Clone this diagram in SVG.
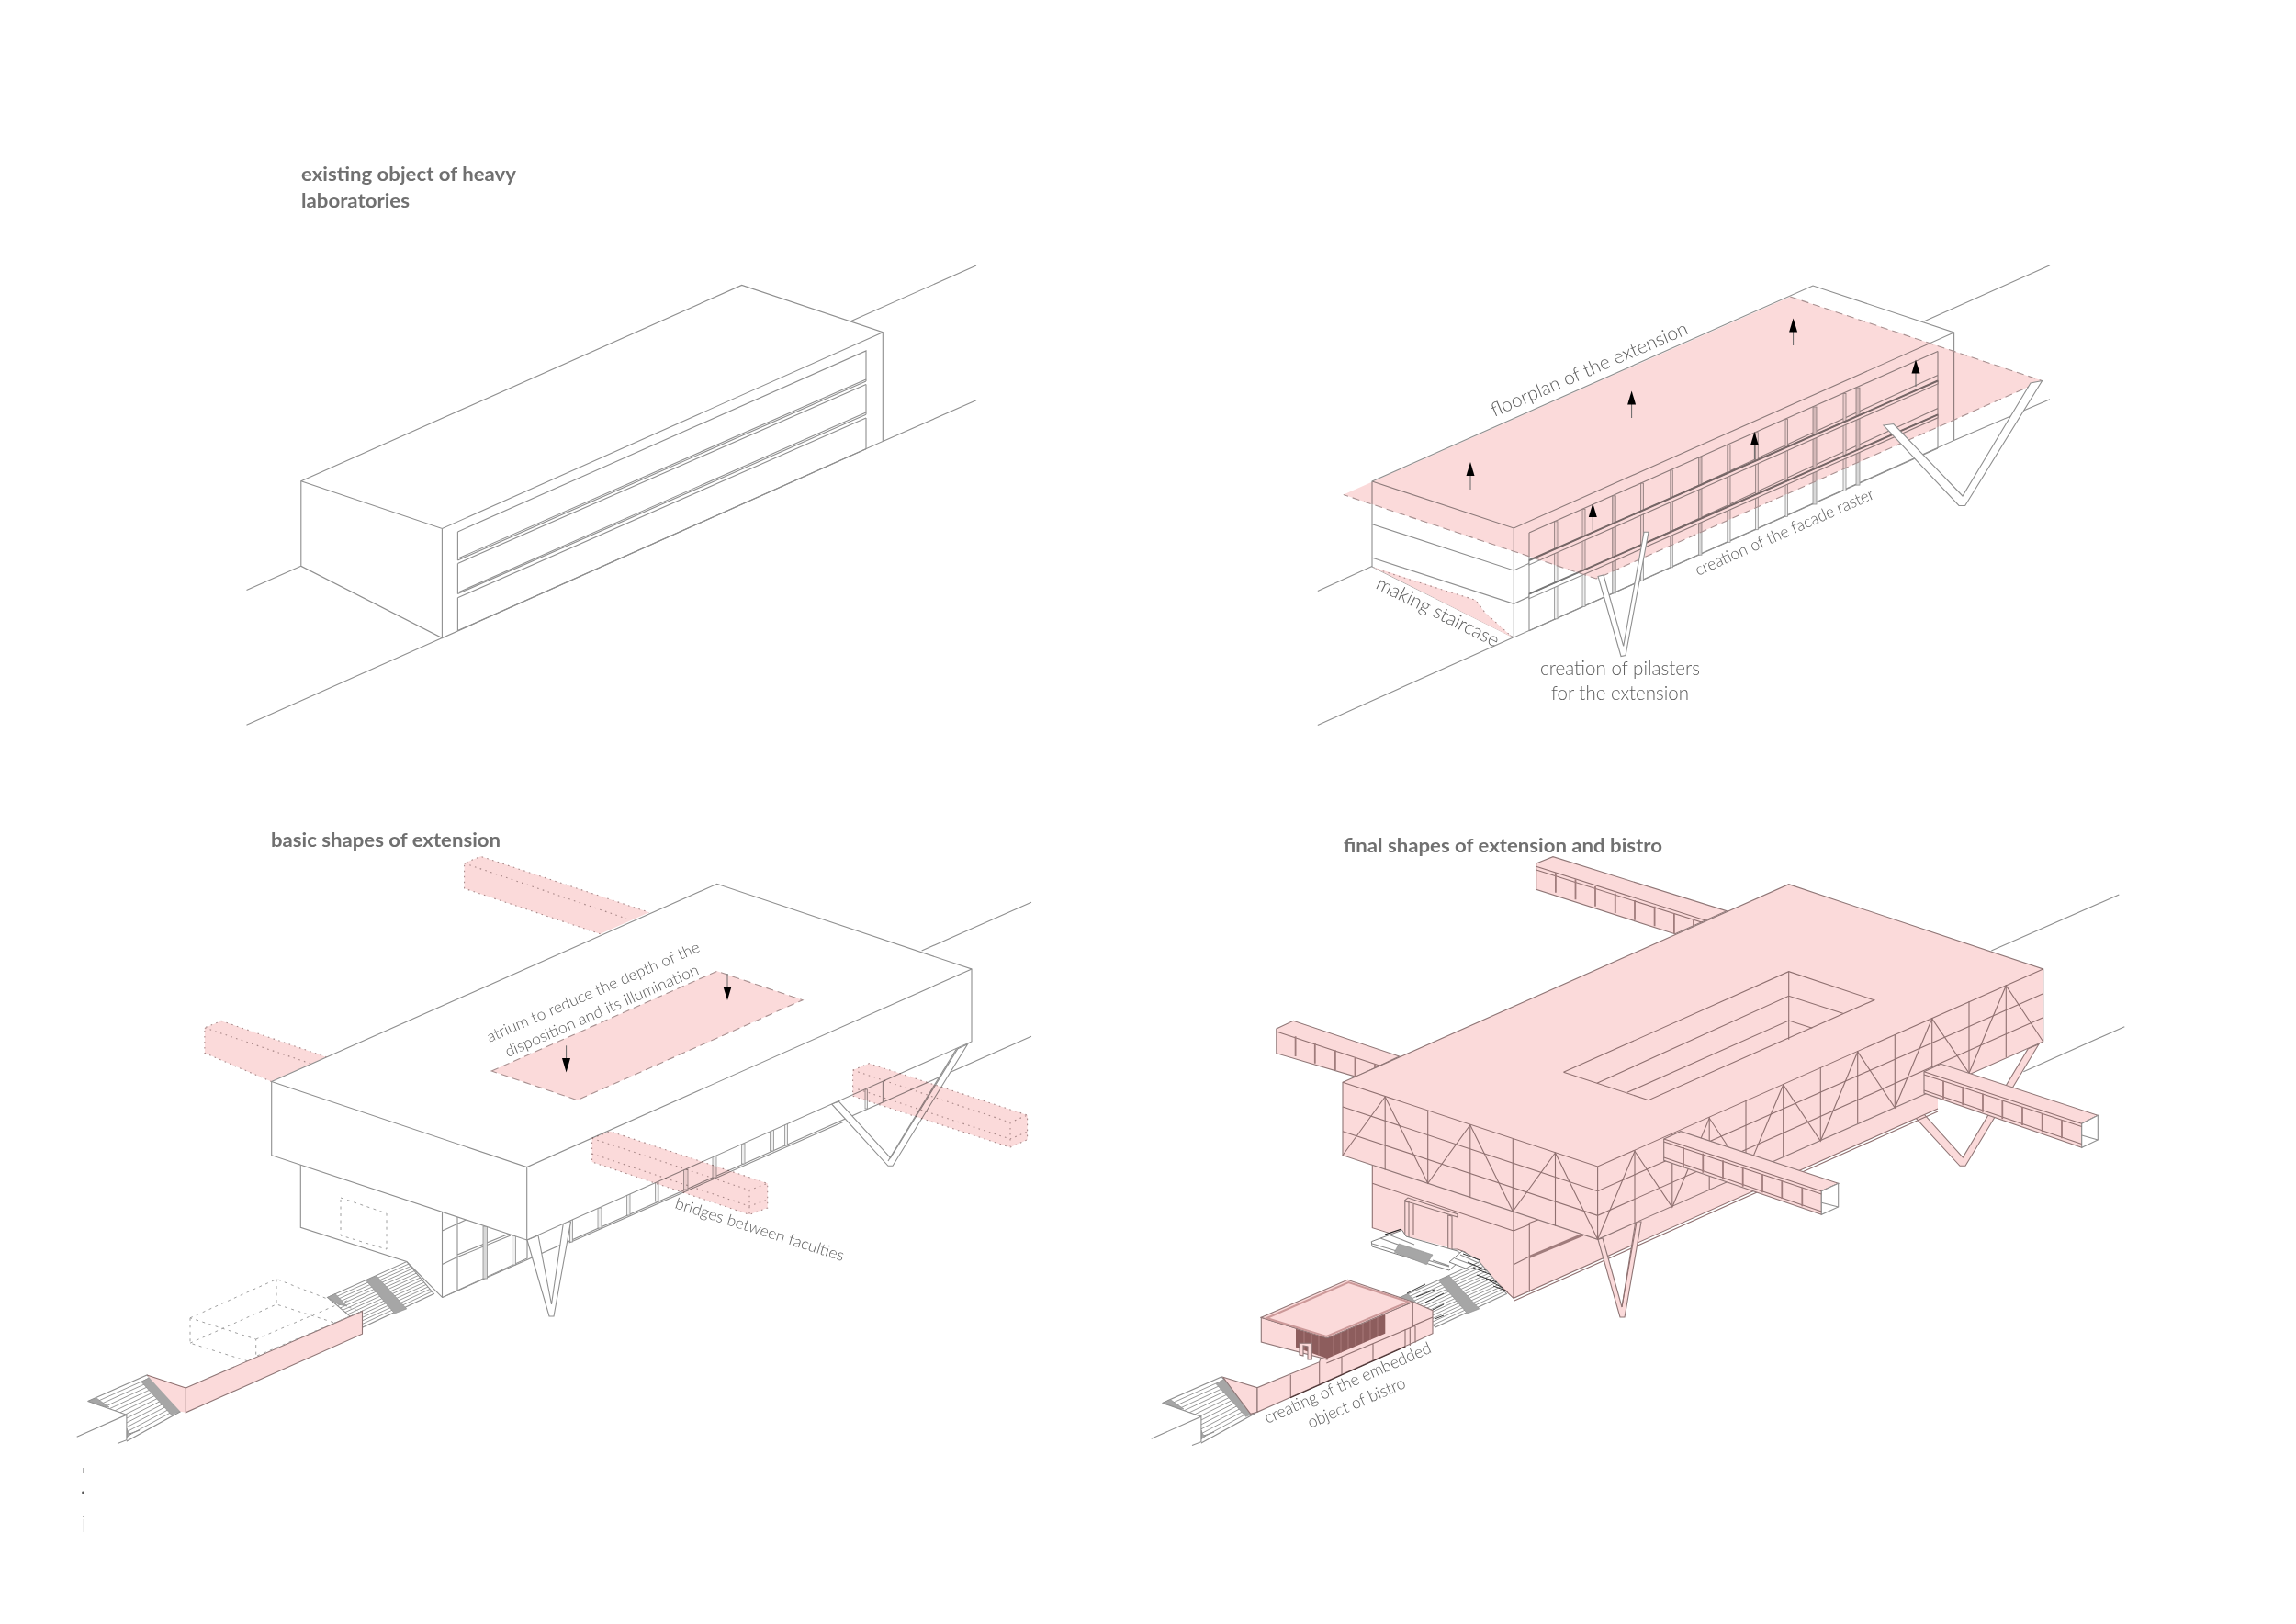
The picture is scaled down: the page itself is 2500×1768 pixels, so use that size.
<svg xmlns="http://www.w3.org/2000/svg" xmlns:xlink="http://www.w3.org/1999/xlink" width="2500" height="1768" viewBox="0 0 2500 1768">
<style>
.bg{fill:#fff}
.l{fill:none;stroke:#8f8f8f;stroke-width:1.1}
.s{fill:none;stroke:#7d7d7d;stroke-width:.8}
.w{fill:#fff;stroke:#8f8f8f;stroke-width:1.1}
.pk{fill:#fbdada;stroke:none}
.pl{fill:#fbdada;stroke:#8f7676;stroke-width:1.1}
.r{fill:none;stroke:#8f7070;stroke-width:1.1}
.win{fill:none;stroke:#a07c7c;stroke-width:1.8}
.pm{fill:#fbdada;stroke:none;mix-blend-mode:multiply}
.dash{fill:none;stroke:#a89090;stroke-width:1.1;stroke-dasharray:8 5}
.dot{fill:none;stroke:#a88888;stroke-width:1.1;stroke-dasharray:1.6 4.4}
.gd{fill:none;stroke:#a0a0a0;stroke-width:1;stroke-dasharray:3 4.5}
.vg{fill:#d8d8d8;stroke:#8f8f8f;stroke-width:.8}
.vw{fill:#efefef;stroke:#8f8f8f;stroke-width:.8}
.g{fill:#a6a6a6;stroke:#8f8f8f;stroke-width:.6}
.st{fill:#fff;stroke:#7e7e7e;stroke-width:1}
.arr{stroke:#666;stroke-width:1}
.h{font-family:Lato,"Liberation Sans",sans-serif;font-weight:700;fill:#707070;font-size:21px}
.t{font-family:Lato,"Liberation Sans",sans-serif;font-weight:300;fill:#5c5c5c;font-size:21px}
</style>
<defs>
<path id="ah" d="M0 0L-4.5 15L4.5 15Z" fill="#000"/>
<g id="lowstair">
<polygon class="w" points="95.6,1525.4 160,1497 196.4,1536.8 137.9,1569"/>
<path class="s" d="M98.9 1528.8L162.8 1500.1M102.1 1532.1L165.6 1503.1M105.4 1535.5L168.4 1506.2M108.6 1538.8L171.2 1509.2M111.9 1542.2L174 1512.3M115.1 1545.5L176.8 1515.4M118.4 1548.9L179.6 1518.4M121.6 1552.2L182.4 1521.5M124.9 1555.6L185.2 1524.5M128.1 1558.9L188 1527.6M131.4 1562.3L190.8 1530.7M134.6 1565.6L193.6 1533.7"/>
<polygon class="g" points="154,1504.5 162.8,1499.5 197.6,1536 186.5,1540.3"/>
<polygon class="g" points="96,1525.5 105,1522 119,1532 108,1531"/>
<polygon class="g" points="138,1555 140,1560 143,1561 138,1565"/>
<polygon fill="#fff" points="90,1523.5 137.9,1540.2 137.9,1574 90,1574"/>
<path class="l" d="M95.6 1525.4L137.9 1540.2M83.7 1564.2L137.9 1540.2V1567.7L128 1571.6"/>
<path class="l" d="M141 1561L152 1557"/>
</g>
<g id="upstair">
<polygon class="w" points="356.6,1412.4 442.8,1373.6 472.4,1408.5 395.3,1444.8"/>
<path class="s" d="M359.4 1414.7L444.9 1376.1M362.1 1417L447 1378.6M364.9 1419.3L449.1 1381.1M367.6 1421.6L451.2 1383.6M370.4 1424L453.4 1386.1M373.2 1426.3L455.5 1388.5M375.9 1428.6L457.6 1391M378.7 1430.9L459.7 1393.5M381.4 1433.2L461.8 1396M384.2 1435.5L463.9 1398.5M387 1437.8L466 1401M389.7 1440.1L468.1 1403.5M392.5 1442.4L470.3 1406"/>
<polygon class="g" points="398.5,1394 410,1389 442.8,1424.9 429.7,1430"/>
<polygon class="g" points="356.6,1412.4 365,1408.5 378,1422 368,1420"/>
</g>
</defs>
<rect class="bg" width="2500" height="1768"/>

<g id="panel1">
<text class="h" x="328" y="197" textLength="234" lengthAdjust="spacingAndGlyphs">existing object of heavy</text>
<text class="h" x="328" y="226" textLength="118" lengthAdjust="spacingAndGlyphs">laboratories</text>
<path class="l" d="M925.7 350L1063 289M961.3 480.4L1063 435.8M481.4 694.6L268.5 789.3M327.8 616.3L268.5 642.4"/>
<polygon class="w" points="327.8,523.7 807.7,310.4 961.3,361.7 961.3,480.4 481.4,694.6 327.8,616.3"/>
<path class="l" d="M327.8 523.7L481.4 575.5L961.3 361.7M481.4 575.5V694.6"/>
<path class="l" d="M498.4 578.9L943 381.9V415M498.4 578.9V610M498.4 613.4V646.6M498.4 650.8V686.6M943 418.5V451.3M943 455V488.8"/>
<path class="l" d="M498.4 610L943 415M498.4 613.4L943 418.5M500 607.5L943 413M498.4 646.6L943 451.3M498.4 650.8L943 455M500 644.5L943 449M498.4 686.6L943 488.8"/>
</g>

<g id="panel2">
<path class="l" d="M2094.7 350L2232 288.8M2127.6 479.5L2232 434.8M1647.6 694L1434.8 789.5M1494 616.4L1434.8 643.4"/>
<polygon class="w" points="1494,524 1974,311 2127.6,362 2127.6,479.5 1648.3,694 1494,617"/>
<path class="l" d="M1494 524L1648.3 575L2127.6 362M1648.3 575V694M1494.3 570.7L1648.3 621L2110 408.5M1494.3 607.3L1648.3 657.3L2110 444.6M2110 382.4V488"/>
<polygon class="pk" points="1494,617 1606.7,653.3 1617,667 1647,694"/>
<path class="dot" d="M1500 620L1606.7 653.3L1617 667L1647 694"/>
<path class="l" d="M1665 580L2110 382.4M1665 580V686.7M1665 686.7L2110 488"/>
<g id="raster">
<rect class="vw" x="1692.6" y="567.8" width="3.4" height="106"/>
<rect class="vw" x="1723" y="554.3" width="3" height="106"/>
<rect class="vg" x="1755.7" y="539.8" width="3.5" height="106"/>
<rect class="vw" x="1786.4" y="526.2" width="3" height="106"/>
<rect class="vw" x="1818.8" y="511.8" width="2.5" height="106"/>
<rect class="vg" x="1849.5" y="498.2" width="3.5" height="106"/>
<rect class="vw" x="1880.8" y="484.3" width="3.2" height="106"/>
<rect class="vw" x="1911.5" y="470.7" width="2.8" height="106"/>
<rect class="vw" x="1944" y="456.3" width="2.5" height="106"/>
<rect class="vg" x="1974" y="443" width="4" height="106"/>
<rect class="vw" x="2007" y="428.4" width="3" height="106"/>
<rect class="vg" x="2021" y="422.1" width="4" height="106"/>
</g>
<polygon class="w" points="1665,610 2110,414.5 2110,418 1665,615"/>
<polygon class="w" points="1665,646.7 2110,451.4 2110,454.8 1665,651.7"/>
<path d="M1665 610L2110 414.5M1665 646.7L2110 451.4" fill="none" stroke="#777" stroke-width="2"/>
<polygon class="pm" points="1462.8,538.6 1949.3,323 2223.6,414.5 1738,630"/>
<path class="dash" d="M1949.3 323L2223.6 414.5L1738 630L1462.8 538.6"/>
<polygon class="w" points="1740,627.5 1746,626 1767.7,703.3 1790,579.3 1795,579.3 1770,713.5 1765,714.5"/>
<polygon class="w" points="2050.8,463 2061.8,461.5 2137,540 2211,417 2223.6,414.5 2139.7,550.5 2133,550.5"/>
<path class="arr" d="M1601 533V510M1776.6 455V432M1952.6 376V353M2086 421V398M1910.4 500V477M1734.3 577.5V555"/>
<use xlink:href="#ah" href="#ah" x="1601" y="503"/>
<use xlink:href="#ah" href="#ah" x="1776.6" y="425.4"/>
<use xlink:href="#ah" href="#ah" x="1952.6" y="346.6"/>
<use xlink:href="#ah" href="#ah" x="2086" y="391.6"/>
<use xlink:href="#ah" href="#ah" x="1910.4" y="470"/>
<use xlink:href="#ah" href="#ah" x="1734.3" y="548"/>
<text class="t" transform="translate(1627,454) rotate(-23.2)" textLength="231" lengthAdjust="spacingAndGlyphs">floorplan of the extension</text>
<text class="t" style="font-size:18px" transform="translate(1849,627) rotate(-23.7)" textLength="211" lengthAdjust="spacingAndGlyphs">creation of the facade raster</text>
<text class="t" transform="translate(1497,640) rotate(26.3)" textLength="146" lengthAdjust="spacingAndGlyphs">making staircase</text>
<text class="t" x="1764" y="735" text-anchor="middle" textLength="174" lengthAdjust="spacingAndGlyphs">creation of pilasters</text>
<text class="t" x="1764" y="762" text-anchor="middle" textLength="150" lengthAdjust="spacingAndGlyphs">for the extension</text>
</g>

<g id="panel3">
<text class="h" x="295" y="922" textLength="250" lengthAdjust="spacingAndGlyphs">basic shapes of extension</text>
<path class="l" d="M1003.6 1035L1123 982.3M481.5 1412.4L1123 1128.3M619.6 1353L917.9 1221.5"/>
<polygon class="pk" points="505.6,939.8 523.4,932.3 707,993.3 653.6,1016.7 505.6,967.2"/>
<path class="dot" d="M653.6 1016.7L505.6 967.2V939.8L523.4 932.3L707 993.3M505.6 939.8L682 1000"/>
<polygon class="pk" points="222.9,1118.9 241,1111.4 356.6,1151.2 295.7,1177.6 222.9,1146.3"/>
<path class="dot" d="M295.7 1177.6L222.9 1146.3V1118.9L241 1111.4L356.6 1151.2M222.9 1118.9L340.7 1158.7"/>
<g id="lower3">
<polygon class="w" points="327.3,1268 327.3,1336.3 442.8,1373.6 481.5,1412.4 574,1370 574,1340 481.5,1300"/>
<path class="l" d="M481.5 1319V1412.4M481.5 1340L509.6 1327M481.5 1376.6L498 1368.6M498 1368.6L556 1345M498 1366L556 1342.5M498 1322V1405"/>
<rect class="vg" x="526" y="1335" width="4.5" height="57"/>
<rect class="vw" x="557.4" y="1345" width="4" height="32"/>
<polygon class="gd" points="371,1304 421,1321 421,1360 371,1345"/>
<g id="verts3">
<rect class="vw" x="620.5" y="1328" width="3" height="24"/>
<rect class="vw" x="651" y="1315" width="4" height="22"/>
<rect class="vw" x="682.5" y="1300" width="3.5" height="23"/>
<rect class="vw" x="713.5" y="1287" width="3.5" height="21"/>
<rect class="vw" x="744.5" y="1273" width="4.5" height="22"/>
<rect class="vw" x="776" y="1258" width="4" height="24"/>
<rect class="vw" x="807.5" y="1245" width="3.5" height="22"/>
<rect class="vw" x="838.5" y="1230" width="4" height="23"/>
<rect class="vw" x="854.5" y="1223" width="3" height="24"/>
<rect class="vw" x="942" y="1186" width="2.5" height="21"/>
<path class="l" d="M961.4 1177V1200"/>
</g>
</g>
<polygon class="w" points="905.4,1201.7 913.6,1199.3 969.6,1260.7 1042.9,1141.7 1053.6,1136.7 972,1269.3 967,1269.3"/>
<path class="l" d="M967 1264L1042 1141"/>
<polygon class="w" points="574,1350 586,1345 600.5,1420 613.6,1330 621.5,1330 603,1433 598,1433"/>
<polygon class="w" points="295.7,1177.6 780.7,962.3 1058,1055 1058,1134 573.7,1350 295.7,1257.7"/>
<path class="l" d="M295.7 1177.6L573.7 1270.6L1058 1055M573.7 1270.6V1350"/>
<polygon class="pk" points="535.3,1166 780.7,1057.3 874,1088.7 628.6,1197.7"/>
<path class="dash" d="M535.3 1166L780.7 1057.3L874 1088.7L628.6 1197.7Z"/>
<path class="arr" d="M616.6 1138.3V1155M792 1060V1076"/>
<path d="M612 1152L621 1152L616.6 1167.5Z M787.5 1074L796.5 1074L792 1089Z" fill="#000"/>
<g id="bridge3c" style="mix-blend-mode:multiply">
<polygon class="pk" points="644.6,1239.3 664.3,1231.7 835.7,1288.3 835.7,1315 816,1322.3 644.6,1265"/>
<path class="dot" d="M644.6 1239.3L664.3 1231.7L835.7 1288.3V1315L816 1322.3L644.6 1265ZM644.6 1239.3L816 1295.7L835.7 1288.3M816 1295.7V1322.3M644.6 1256L816 1313L835.7 1306"/>
</g>
<g id="bridge3d" style="mix-blend-mode:multiply">
<polygon class="pk" points="928.6,1165 946.4,1157.7 1118.6,1214 1118.6,1240.7 1100,1249 928.6,1193.3"/>
<path class="dot" d="M928.6 1165L946.4 1157.7L1118.6 1214V1240.7L1100 1249L928.6 1193.3ZM928.6 1165L1100 1222L1118.6 1214M1100 1222V1249M928.6 1184L1100 1240L1118.6 1232"/>
</g>
<text class="t" style="font-size:17px" transform="translate(533,1135) rotate(-23.4)" textLength="251" lengthAdjust="spacingAndGlyphs">atrium to reduce the depth of the</text>
<text class="t" style="font-size:17px" transform="translate(553,1151) rotate(-23.5)" textLength="228" lengthAdjust="spacingAndGlyphs">disposition and its illumination</text>
<text class="t" style="font-size:17px" transform="translate(734,1315) rotate(17.6)" textLength="192" lengthAdjust="spacingAndGlyphs">bridges between faculties</text>
<use xlink:href="#upstair" href="#upstair"/>
<use xlink:href="#lowstair" href="#lowstair"/>
<g id="ghost3">
<path class="gd" d="M207 1434.8L301.2 1392.5L395 1429M207 1434.8V1462.2L278.7 1484.6V1458L207 1434.8M278.7 1458L380 1415M207 1462.2L301 1420L380 1445M301 1392.5V1420M278.7 1484.6L380 1441"/>
</g>
<polygon class="pk" points="160,1497 202.3,1511 202.3,1537.8 196.4,1536.8"/>
<polygon class="pl" points="202.3,1511 394.5,1427.4 394.5,1452.2 202.3,1537.8"/>
<path class="r" d="M160 1497L202.3 1511"/>
<path class="gd" d="M280 1476L395 1427"/>
<circle cx="90.5" cy="1625" r="1.4" fill="#555"/>
<path d="M91 1598V1604M91 1650V1652" stroke="#999" stroke-width="1.5"/>
<path d="M91 1654V1668" stroke="#ddd" stroke-width="1"/>
</g>

<g id="panel4">
<text class="h" x="1463" y="928" textLength="347" lengthAdjust="spacingAndGlyphs">final shapes of extension and bistro</text>
<path class="l" d="M2168.3 1035L2307.3 974M2203.3 1166.7L2313.3 1117.7"/>
<g id="bridge4a">
<polygon class="pl" points="1672.7,940 1691,932.7 1880,991.7 1823.7,1016.7 1672.7,968.3"/>
<path class="r" d="M1672.7 943.3L1856.3 1001.7"/>
<path class="r" d="M1672.7 947L1856 1005"/>
<path class="win" d="M1693.9 950V971.7M1715.5 957.3V979.3M1737 965V986.7M1758.8 972.7V994M1780 980V1001.7M1801.6 986.7V1008.3M1822.9 994V1016M1844 1001.7V1012"/>
</g>
<g id="bridge4b">
<polygon class="pl" points="1389.8,1120 1408.2,1111.3 1523.7,1150 1476.7,1172.3 1389.8,1146.7"/>
<path class="r" d="M1389.8 1123L1505 1161"/>
<path class="win" d="M1410.6 1128.3V1150M1431.8 1136V1157.7M1453.9 1143.3V1165M1475.5 1151.7V1172.3M1497 1158.3V1166"/>
</g>
<polygon class="pl" points="2071.7,1201.7 2083.3,1200 2137.3,1260 2208.3,1141.7 2220,1136.7 2140,1269.3 2134,1269.3"/>
<g id="lower4">
<polygon class="pk" points="1494.3,1268.3 1494.3,1336.7 1587,1360 1595,1363 1648,1413.3 2110,1207 2110,1150 1648,1300"/>
<path class="r" d="M1494.3 1268.3V1336.7L1531 1348M1566 1360L1587 1360L1595 1363L1648 1413.3L2110 1207M1649 1416L2110 1210M1494.3 1288.3L1648 1340M1648 1319V1413.3M1648 1340L1665.3 1333M1648 1376.7L1665.3 1368M1665.3 1333V1406.7M1664.5 1331.7L1674.7 1328"/>
<path d="M1665.3 1368.3L1723.7 1344" stroke="#a07c7c" stroke-width="3" fill="none"/>
<polygon class="pl" points="1529.8,1306.7 1533,1304 1587,1321.7 1587,1325 1535,1309"/>
<polygon class="pl" points="1529.8,1308 1534,1309 1534,1347 1529.8,1346.7"/>
<polygon class="pl" points="1576.7,1323 1581,1324 1581,1362 1576.7,1361.7"/>
<path class="r" d="M1539 1311V1345"/>
</g>
<polygon class="pl" points="1740,1349.3 1745,1348 1766,1423 1780.8,1330 1787,1330 1769,1434 1764,1434"/>
<path class="r" d="M1766 1423L1782 1330"/>
<g id="slab4">
<polygon class="pl" points="1462,1178.3 1947.7,962.7 2224.7,1055 2224.7,1134 1739.6,1349.3 1462,1257.7"/>
<path class="r" d="M1462 1178.3L1739.6 1270L2224.7 1055M1739.6 1270V1349.3M1462 1205L1739.6 1296.7L2224.7 1081.7M1462 1231.7L1739.6 1323.3L2224.7 1107.7"/>
<path class="r" d="M1508.2 1194V1273.4M1554.7 1209.3V1288.3M1600.8 1224.7V1304M1647.3 1240V1319M1693.5 1255V1334.5"/>
<path class="r" d="M1462 1257.7L1508.2 1194L1554.7 1288.3L1600.8 1224.7L1647.3 1318.7L1693.5 1255L1739.6 1349.3"/>
<path class="r" d="M1780 1252V1331M1820.8 1234V1313M1861.2 1216V1295M1901 1198V1277M1941.7 1180V1259M1982.3 1162V1241M2022.7 1144V1223M2063.3 1126V1205M2103.7 1108V1187M2144 1090V1169M2184.3 1072V1151"/>
<path class="r" d="M1739.6 1349.3L1780 1253.3L1820.8 1314.3L1861.2 1217.3L1901 1278L1941.7 1181L1982.3 1242.3L2022.7 1145L2063.3 1206L2103.7 1109L2144 1168.3L2184.3 1073L2224.7 1134"/>
</g>
<g id="atrium4">
<path class="r" d="M1702.4 1167.3L1947.7 1057.7L2040.7 1088.7L1795 1197.7L1702.4 1167.3"/>
<path class="r" d="M1738.8 1179.3L1947.7 1084.3L2006.7 1103.3M1771.8 1189.3L1947.7 1111L1973.3 1119.3M1947.7 1057.7V1131.7"/>
</g>
<g id="bridge4c">
<polygon class="pl" points="1811.7,1240 1830,1231.7 2001.7,1288.3 1983.3,1296.7 1983.3,1322.3 1811.7,1263.3"/>
<polygon class="w" points="1983.3,1296.7 2001.7,1288.3 2001.7,1314 1983.3,1322.3"/>
<path class="l" d="M1983.3 1309.3L2001.7 1314"/>
<path class="r" d="M1811.7 1240L1983.3 1296.7M1811.7 1243L1983.3 1300M1811.7 1260L1983.3 1319"/>
<path class="win" d="M1833 1249V1270M1854.3 1255.7V1276.7M1876 1263.3V1284.3M1897.7 1270.7V1291.7M1919 1278.3V1298.3M1940.3 1285V1305M1962.3 1292.7V1313.3"/>
</g>
<g id="bridge4d">
<polygon class="pl" points="2095,1166.7 2113.3,1158.3 2284.3,1214.3 2266.7,1223.3 2266.7,1249.3 2095,1190"/>
<polygon class="w" points="2266.7,1223.3 2284.3,1214.3 2284.3,1241 2266.7,1249.3"/>
<path class="l" d="M2266.7 1236L2284.3 1241"/>
<path class="r" d="M2095 1166.7L2266.7 1223.3M2095 1170L2266.7 1226.5M2095 1187L2266.7 1245.5"/>
<path class="win" d="M2116 1176.7V1196.7M2137.3 1183.3V1203.3M2159 1190.7V1210.7M2180.3 1198.3V1218.3M2202 1205V1225M2223.7 1212.3V1232.3M2245 1219.3V1239.3"/>
</g>
<g id="steps4">
<polygon class="st" points="1493.3,1351.7 1526.7,1339.3 1531,1346 1587,1362 1595,1368 1578,1383 1494,1357"/>
<path class="l" d="M1503 1348L1533 1359M1512 1344L1540 1355M1494 1354L1578 1379M1560 1372L1578 1378"/>
<path d="M1508 1344L1526 1338" stroke="#222" stroke-width="1.2"/>
<polygon class="g" points="1523.3,1354 1518.3,1363.3 1553.3,1376.7 1560,1366"/>
<use xlink:href="#upstair" href="#upstair" x="1168"/>
<polygon class="st" points="1578,1374 1592,1362 1612,1373 1596,1381"/>
<path class="l" d="M1590 1366L1610 1375M1584 1370L1606 1378"/>
<path d="M1593 1365L1612 1372M1598 1374L1618 1383M1604 1380L1624 1388M1608 1388L1630 1396M1618 1392L1636 1402M1626 1400L1642 1406M1532 1408L1552 1398M1542 1412L1562 1404M1552 1418L1572 1408M1560 1426L1572 1420M1562 1436L1572 1432" stroke="#333" stroke-width="1" fill="none"/>
</g>
<use xlink:href="#lowstair" href="#lowstair" x="1170" y="2"/>
<g id="bistro">
<polygon class="pl" points="1331.7,1499.3 1369,1510.7 1369,1537.3 1361.7,1539.3"/>
<polygon class="pl" points="1538.3,1417.3 1560,1426.7 1560,1451.7 1541,1460.7 1369,1537.3 1369,1510.7 1436.7,1482.7 1445,1456.7"/>
<path class="r" d="M1538.3 1417.3V1443.3L1560 1434M1405.3 1496.7V1521.7M1436.7 1482.7V1508.3M1461 1476.7V1496.7M1495 1463.3V1481.7M1530 1447V1468M1535.3 1445.7V1465M1541 1443.3V1461.7M1444.3 1484L1541 1443.3"/>
<path d="M1405 1521.7L1530 1466" stroke="#4a3030" stroke-width="1.2" fill="none"/>
<polygon class="pl" points="1373.3,1434.3 1445,1456.7 1445,1480 1373.3,1461"/>
<polygon fill="#8d5d5d" points="1411,1446.7 1445,1456.7 1508.3,1430.7 1508.3,1451.7 1445,1479 1411,1466.7"/>
<path d="M1420 1449V1470M1428 1452V1473M1436 1454V1476M1452 1453V1476M1460 1450V1473M1468 1447V1469M1476 1444V1466M1484 1440V1462M1492 1437V1459M1500 1434V1455" stroke="#a97a7a" stroke-width="1"/>
<polygon class="pl" points="1373.3,1434.3 1467.3,1393.3 1538.3,1417.3 1445,1456.7"/>
<polygon fill="#fbdada" stroke="#c99" stroke-width="2" points="1379.3,1435 1468.3,1396 1533.3,1417.3 1444.3,1455"/>
<polygon class="pl" points="1415,1462.3 1428.3,1462.3 1428.3,1480 1424,1480 1424,1466 1419,1465 1419,1476 1415,1475"/>
</g>
<text class="t" style="font-size:18px" transform="translate(1380,1550) rotate(-23.5)" textLength="196" lengthAdjust="spacingAndGlyphs">creating of the embedded</text>
<text class="t" style="font-size:18px" transform="translate(1427,1555) rotate(-23.2)" textLength="114" lengthAdjust="spacingAndGlyphs">object of bistro</text>
</g>
</svg>
